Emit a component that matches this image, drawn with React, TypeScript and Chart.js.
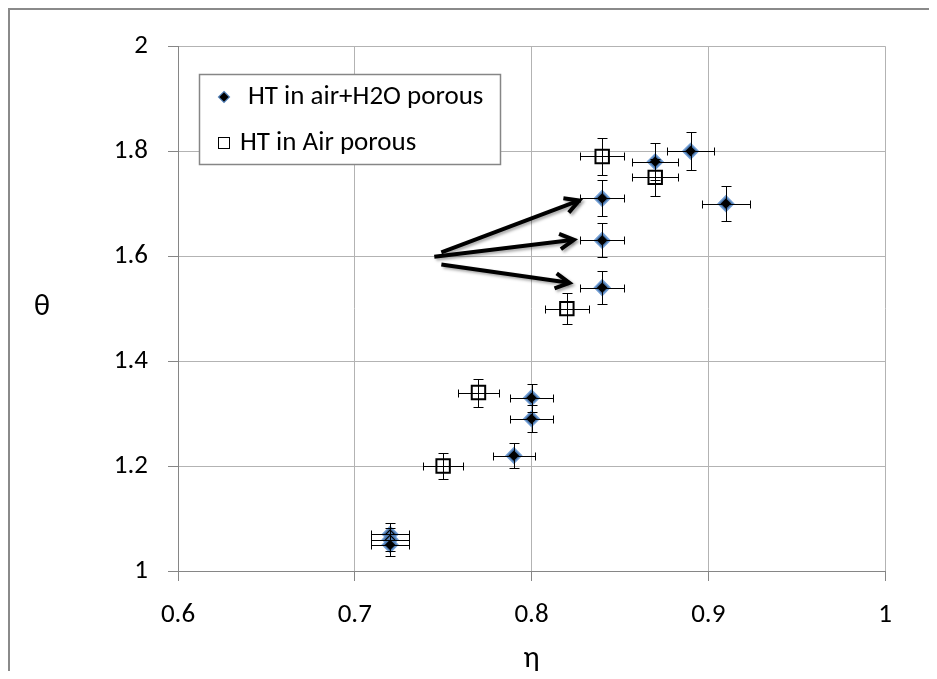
import React, { useEffect, useRef } from "react";
import { Chart, registerables } from "chart.js";

Chart.register(...registerables);

// ---- data ----
const xTickValues = [0.6, 0.7, 0.8, 0.9, 1.0];
const yTickValues = [1, 1.2, 1.4, 1.6, 1.8, 2];

const seriesH2OLabel = "HT in air+H2O porous";
const h2oEta = [0.89, 0.87, 0.84, 0.84, 0.84, 0.91, 0.8, 0.8, 0.79, 0.72, 0.72, 0.72];
const h2oTheta = [1.8, 1.78, 1.71, 1.63, 1.54, 1.7, 1.33, 1.29, 1.22, 1.07, 1.06, 1.05];

const seriesAirLabel = "HT in Air porous";
const airEta = [0.84, 0.87, 0.82, 0.77, 0.75];
const airTheta = [1.79, 1.75, 1.5, 1.34, 1.2];

// relative error bars
const etaErrFrac = 0.015;
const thetaErrFrac = 0.02;

// arrow annotations (data units)
const arrowFromEta = [0.749, 0.745, 0.749];
const arrowFromTheta = [1.607, 1.599, 1.584];
const arrowToEta = [0.827, 0.824, 0.8215];
const arrowToTheta = [1.706, 1.631, 1.549];

const xTitle = "η";
const yTitle = "θ";

const FONT = "Carlito, 'Open Sans', sans-serif";

const errorBarsPlugin = {
  id: "errorBars",
  afterDatasetsDraw(chart: any) {
    const { ctx } = chart;
    const x = chart.scales.x;
    const y = chart.scales.y;
    ctx.save();
    ctx.strokeStyle = "#000";
    ctx.lineWidth = 1;
    chart.data.datasets.forEach((ds: any) => {
      ds.data.forEach((p: any) => {
        const px = Math.round(x.getPixelForValue(p.x)) + 0.5;
        const py = Math.round(y.getPixelForValue(p.y)) + 0.5;
        const xl = Math.round(x.getPixelForValue(p.x * (1 - etaErrFrac))) + 0.5;
        const xr = Math.round(x.getPixelForValue(p.x * (1 + etaErrFrac))) + 0.5;
        const yt = Math.round(y.getPixelForValue(p.y * (1 + thetaErrFrac))) + 0.5;
        const yb = Math.round(y.getPixelForValue(p.y * (1 - thetaErrFrac))) + 0.5;
        const c = 4;
        ctx.beginPath();
        ctx.moveTo(xl, py);
        ctx.lineTo(xr, py);
        ctx.moveTo(xl, py - c);
        ctx.lineTo(xl, py + c);
        ctx.moveTo(xr, py - c);
        ctx.lineTo(xr, py + c);
        ctx.moveTo(px, yt);
        ctx.lineTo(px, yb);
        ctx.moveTo(px - c - 1, yt);
        ctx.lineTo(px + c + 1, yt);
        ctx.moveTo(px - c - 1, yb);
        ctx.lineTo(px + c + 1, yb);
        ctx.stroke();
      });
    });
    ctx.restore();
  },
};

const annotationsPlugin = {
  id: "annotations",
  afterDraw(chart: any) {
    const { ctx } = chart;
    const x = chart.scales.x;
    const y = chart.scales.y;
    const area = chart.chartArea;

    // arrows
    ctx.save();
    ctx.strokeStyle = "#000";
    ctx.lineWidth = 4;
    ctx.lineCap = "butt";
    ctx.lineJoin = "miter";
    ctx.shadowColor = "rgba(0,0,0,0.35)";
    ctx.shadowBlur = 3;
    ctx.shadowOffsetX = 2;
    ctx.shadowOffsetY = 2;
    for (let i = 0; i < arrowFromEta.length; i++) {
      const x0 = x.getPixelForValue(arrowFromEta[i]);
      const y0 = y.getPixelForValue(arrowFromTheta[i]);
      const x1 = x.getPixelForValue(arrowToEta[i]);
      const y1 = y.getPixelForValue(arrowToTheta[i]);
      const ang = Math.atan2(y1 - y0, x1 - x0);
      ctx.beginPath();
      ctx.moveTo(x0, y0);
      ctx.lineTo(x1 - 2 * Math.cos(ang), y1 - 2 * Math.sin(ang));
      ctx.stroke();
      const len = 16;
      const spread = 0.5;
      ctx.beginPath();
      ctx.moveTo(x1 - len * Math.cos(ang - spread), y1 - len * Math.sin(ang - spread));
      ctx.lineTo(x1, y1);
      ctx.lineTo(x1 - len * Math.cos(ang + spread), y1 - len * Math.sin(ang + spread));
      ctx.stroke();
    }
    ctx.restore();

    // legend box
    ctx.save();
    const lx = 189, ly = 64, lw = 301, lh = 90;
    ctx.fillStyle = "#fff";
    ctx.fillRect(lx, ly, lw, lh);
    ctx.strokeStyle = "#868686";
    ctx.lineWidth = 1.5;
    ctx.strokeRect(lx + 0.5, ly + 0.5, lw, lh);
    // diamond marker
    const dx = 214, dy = 87, dr = 5.5;
    ctx.beginPath();
    ctx.moveTo(dx, dy - dr);
    ctx.lineTo(dx + dr, dy);
    ctx.lineTo(dx, dy + dr);
    ctx.lineTo(dx - dr, dy);
    ctx.closePath();
    ctx.fillStyle = "#000";
    ctx.fill();
    ctx.strokeStyle = "rgba(79,129,189,0.9)";
    ctx.lineWidth = 1.2;
    ctx.stroke();
    // square marker
    ctx.fillStyle = "#fff";
    ctx.fillRect(208, 127, 11, 11);
    ctx.strokeStyle = "#000";
    ctx.lineWidth = 1;
    ctx.strokeRect(208.5, 127.5, 11, 11);
    ctx.fillStyle = "#000";
    ctx.font = `27px ${FONT}`;
    ctx.textBaseline = "middle";
    ctx.textAlign = "left";
    ctx.fillText(seriesH2OLabel, 238, 87);
    ctx.fillText(seriesAirLabel, 230, 133);
    ctx.restore();

    // axis titles
    ctx.save();
    ctx.fillStyle = "#000";
    ctx.font = `30px ${FONT}`;
    ctx.textAlign = "center";
    ctx.textBaseline = "alphabetic";
    ctx.fillText(xTitle, (area.left + area.right) / 2, 657);
    ctx.textBaseline = "middle";
    ctx.fillText(yTitle, 32, 297);
    ctx.restore();
  },
};

export default function App() {
  const canvasRef = useRef<HTMLCanvasElement | null>(null);

  useEffect(() => {
    document.documentElement.style.overflow = "hidden";
    document.body.style.overflow = "hidden";
    const canvas = canvasRef.current;
    if (!canvas) return;
    const tickFont = { family: FONT, size: 27 };
    const chart = new Chart(canvas, {
      type: "scatter",
      data: {
        datasets: [
          {
            label: seriesH2OLabel,
            data: h2oEta.map((v, i) => ({ x: v, y: h2oTheta[i] })),
            pointStyle: "rectRot",
            pointRadius: 7,
            pointHoverRadius: 7,
            backgroundColor: "#000",
            borderColor: "rgba(91,142,206,0.85)",
            borderWidth: 2.5,
            showLine: false,
          },
          {
            label: seriesAirLabel,
            data: airEta.map((v, i) => ({ x: v, y: airTheta[i] })),
            pointStyle: "rect",
            pointRadius: 9.5,
            pointHoverRadius: 9.5,
            backgroundColor: "#fff",
            borderColor: "#000",
            borderWidth: 2,
            showLine: false,
          },
        ],
      },
      options: {
        animation: false,
        responsive: false,
        devicePixelRatio: 1,
        layout: { padding: { top: 32, right: 52, left: 0, bottom: 0 } },
        plugins: { legend: { display: false }, tooltip: { enabled: false } },
        scales: {
          x: {
            type: "linear",
            min: 0.6,
            max: 1,
            afterBuildTicks: (s: any) => {
              s.ticks = xTickValues.map((v) => ({ value: v }));
            },
            afterFit: (s: any) => {
              s.height = 100;
            },
            grid: { color: "#b3b3b3", tickColor: "#868686", tickLength: 10, lineWidth: 1 },
            border: { color: "#868686", width: 1 },
            ticks: {
              color: "#000",
              font: tickFont,
              padding: 18,
              maxRotation: 0,
              callback: (v: any) => String(v),
            },
          },
          y: {
            type: "linear",
            min: 1,
            max: 2,
            afterBuildTicks: (s: any) => {
              s.ticks = yTickValues.map((v) => ({ value: v }));
            },
            afterFit: (s: any) => {
              s.width = 168;
            },
            grid: { color: "#b3b3b3", tickColor: "#868686", tickLength: 10, lineWidth: 1 },
            border: { color: "#868686", width: 1 },
            ticks: {
              color: "#000",
              font: tickFont,
              padding: 20,
              callback: (v: any) => String(v),
            },
          },
        },
      },
      plugins: [errorBarsPlugin, annotationsPlugin],
    } as any);
    return () => chart.destroy();
  }, []);

  return (
    <div
      style={{
        position: "relative",
        width: 929,
        height: 663,
        boxSizing: "border-box",
        borderTop: "2px solid #8a8a8a",
        borderLeft: "2px solid #8a8a8a",
        background: "#fff",
      }}
    >
      <canvas ref={canvasRef} width={927} height={661} style={{ display: "block" }} />
    </div>
  );
}
